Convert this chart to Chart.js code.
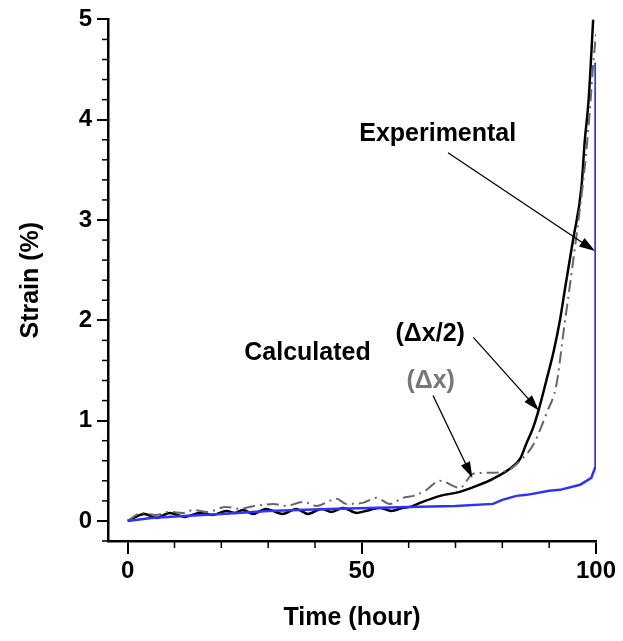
<!DOCTYPE html>
<html>
<head>
<meta charset="utf-8">
<script src="https://cdn.jsdelivr.net/npm/chart.js@4/dist/chart.umd.min.js"></script>
<style>
  html, body { margin: 0; padding: 0; background: #fff; }
</style>
</head>
<body>
<canvas id="myChart" width="623" height="641"></canvas>
<script>
// experimental curve (blue)
const expTime = [0, 5, 12, 20, 30, 43, 60, 70, 78, 80, 83, 85.2, 90, 92.3, 96.6, 99, 99.8, 99.9];
const expStrain = [0, 0.03, 0.05, 0.07, 0.1, 0.12, 0.14, 0.15, 0.17, 0.21, 0.25, 0.26, 0.3, 0.31, 0.36, 0.43, 0.53, 4.57];

// calculated, dx/2 (black solid)
const halfTime = [0, 3.6, 6.1, 9, 12.2, 15.4, 18.2, 21.1, 22.9, 24.6, 26.8, 29.5, 33.1, 36, 38.5, 41.4, 43.5, 46, 48.9, 51.7, 53.8, 56.3, 58.8, 60.3, 62.4, 66.7, 70.9, 74.5, 78, 81.6, 83.8, 85.2, 86.5, 87.6, 89.4, 91, 92.3, 93.5, 95.1, 96.9, 97.6, 98.4, 99.4];
const halfStrain = [0, 0.07, 0.03, 0.08, 0.04, 0.08, 0.06, 0.1, 0.08, 0.11, 0.07, 0.12, 0.07, 0.12, 0.07, 0.12, 0.09, 0.13, 0.08, 0.11, 0.13, 0.1, 0.13, 0.14, 0.18, 0.25, 0.29, 0.35, 0.42, 0.52, 0.62, 0.78, 0.92, 1.08, 1.4, 1.7, 2.0, 2.35, 2.8, 3.33, 3.79, 4.18, 5.0];

// calculated, dx (grey dash-dot)
const fullTime = [0, 3, 6, 9, 12, 14, 17, 21, 24, 27, 29, 31, 33.9, 37.5, 40.3, 44.6, 46.7, 50.2, 53.1, 56, 58.8, 61, 63.5, 66.7, 70.9, 73.8, 77.4, 80.9, 83.8, 86.6, 89.4, 91.6, 93, 95.9, 97.6, 98.7, 99.4, 100];
const fullStrain = [0, 0.08, 0.06, 0.09, 0.08, 0.11, 0.09, 0.14, 0.12, 0.15, 0.16, 0.17, 0.15, 0.19, 0.15, 0.22, 0.17, 0.18, 0.23, 0.17, 0.23, 0.25, 0.3, 0.4, 0.33, 0.47, 0.48, 0.5, 0.6, 0.76, 1.07, 1.37, 1.86, 2.87, 3.53, 4.1, 4.55, 4.85];

// axis ticks
const xMajor = [0, 50, 100];
const xMinor = [10, 20, 30, 40, 60, 70, 80, 90];
const yMajor = [0, 1, 2, 3, 4, 5];
const yMinor = [-0.2, 0.2, 0.4, 0.6, 0.8, 1.2, 1.4, 1.6, 1.8, 2.2, 2.4, 2.6, 2.8, 3.2, 3.4, 3.6, 3.8, 4.2, 4.4, 4.6, 4.8];

// labels in the plot: text position, then arrow from -> to (data units)
const notes = [
  { text: "Experimental", color: "#000", x: 66.2, y: 3.86, arrow: [68.4, 3.67, 99.8, 2.69] },
  { text: "Calculated", color: "#000", x: 38.4, y: 1.67, arrow: null },
  { text: "(\u0394x/2)", color: "#000", x: 64.6, y: 1.86, arrow: [73.8, 1.83, 87.8, 1.1] },
  { text: "(\u0394x)", color: "#777", x: 64.7, y: 1.39, arrow: [65.2, 1.25, 73.6, 0.43] },
];

const toPoints = (xs, ys) => xs.map((x, i) => ({ x: x, y: ys[i] }));
const fontName = "'Liberation Sans', Arial, Helvetica, sans-serif";

const extras = {
  id: "extras",
  afterDraw(chart) {
    const ctx = chart.ctx;
    const xs = chart.scales.x;
    const ys = chart.scales.y;
    ctx.save();

    // minor ticks
    ctx.strokeStyle = "#000";
    ctx.lineWidth = 1.5;
    xMinor.forEach((v) => {
      const px = xs.getPixelForValue(v);
      ctx.beginPath();
      ctx.moveTo(px, xs.top);
      ctx.lineTo(px, xs.top + 7);
      ctx.stroke();
    });
    yMinor.forEach((v) => {
      const py = ys.getPixelForValue(v);
      ctx.beginPath();
      ctx.moveTo(ys.right, py);
      ctx.lineTo(ys.right - 6, py);
      ctx.stroke();
    });

    // annotations
    ctx.font = "bold 25px " + fontName;
    ctx.textAlign = "center";
    ctx.textBaseline = "middle";
    notes.forEach((n) => {
      ctx.fillStyle = n.color;
      ctx.fillText(n.text, xs.getPixelForValue(n.x), ys.getPixelForValue(n.y));
      if (!n.arrow) return;
      const x1 = xs.getPixelForValue(n.arrow[0]);
      const y1 = ys.getPixelForValue(n.arrow[1]);
      const x2 = xs.getPixelForValue(n.arrow[2]);
      const y2 = ys.getPixelForValue(n.arrow[3]);
      const a = Math.atan2(y2 - y1, x2 - x1);
      ctx.strokeStyle = "#000";
      ctx.fillStyle = "#000";
      ctx.lineWidth = 1.3;
      ctx.beginPath();
      ctx.moveTo(x1, y1);
      ctx.lineTo(x2 - 10 * Math.cos(a), y2 - 10 * Math.sin(a));
      ctx.stroke();
      ctx.beginPath();
      ctx.moveTo(x2, y2);
      ctx.lineTo(x2 - 16 * Math.cos(a) + 5 * Math.sin(a), y2 - 16 * Math.sin(a) - 5 * Math.cos(a));
      ctx.lineTo(x2 - 16 * Math.cos(a) - 5 * Math.sin(a), y2 - 16 * Math.sin(a) + 5 * Math.cos(a));
      ctx.closePath();
      ctx.fill();
    });
    ctx.restore();
  },
};

new Chart("myChart", {
  type: "line",
  data: {
    datasets: [
      {
        data: toPoints(expTime, expStrain),
        borderColor: "#3030ff",
        borderWidth: 2.5,
        pointRadius: 0,
        tension: 0,
        fill: false,
      },
      {
        data: toPoints(fullTime, fullStrain),
        borderColor: "#666",
        borderWidth: 2,
        borderDash: [12, 5, 2, 5],
        pointRadius: 0,
        cubicInterpolationMode: "monotone",
        fill: false,
      },
      {
        data: toPoints(halfTime, halfStrain),
        borderColor: "#000",
        borderWidth: 2.5,
        pointRadius: 0,
        cubicInterpolationMode: "monotone",
        fill: false,
      },
    ],
  },
  options: {
    responsive: false,
    animation: false,
    layout: { padding: { top: 18, right: 27, left: 0, bottom: 0 } },
    plugins: {
      legend: { display: false },
      tooltip: { enabled: false },
    },
    scales: {
      x: {
        type: "linear",
        min: -4.2,
        max: 100,
        afterBuildTicks: (scale) => {
          scale.ticks = xMajor.map((v) => ({ value: v }));
        },
        afterFit: (scale) => {
          scale.height = 100;
        },
        border: { display: true, color: "#000", width: 2.5 },
        grid: { drawOnChartArea: false, color: "#000", lineWidth: 2, tickLength: 13 },
        ticks: {
          color: "#000",
          padding: 3,
          maxRotation: 0,
          font: { family: fontName, size: 24, weight: "bold" },
        },
        title: {
          display: true,
          text: "Time (hour)",
          color: "#000",
          padding: { top: 0, bottom: 8 },
          font: { family: fontName, size: 25, weight: "bold" },
        },
      },
      y: {
        min: -0.2,
        max: 5,
        afterBuildTicks: (scale) => {
          scale.ticks = yMajor.map((v) => ({ value: v }));
        },
        afterFit: (scale) => {
          scale.width = 108;
        },
        border: { display: true, color: "#000", width: 2.5 },
        grid: { drawOnChartArea: false, color: "#000", lineWidth: 2, tickLength: 11 },
        ticks: {
          color: "#000",
          padding: 5,
          font: { family: fontName, size: 24, weight: "bold" },
        },
        title: {
          display: true,
          text: "Strain (%)",
          color: "#000",
          padding: { top: 16, bottom: 0 },
          font: { family: fontName, size: 25, weight: "bold" },
        },
      },
    },
  },
  plugins: [extras],
});
</script>
</body>
</html>
